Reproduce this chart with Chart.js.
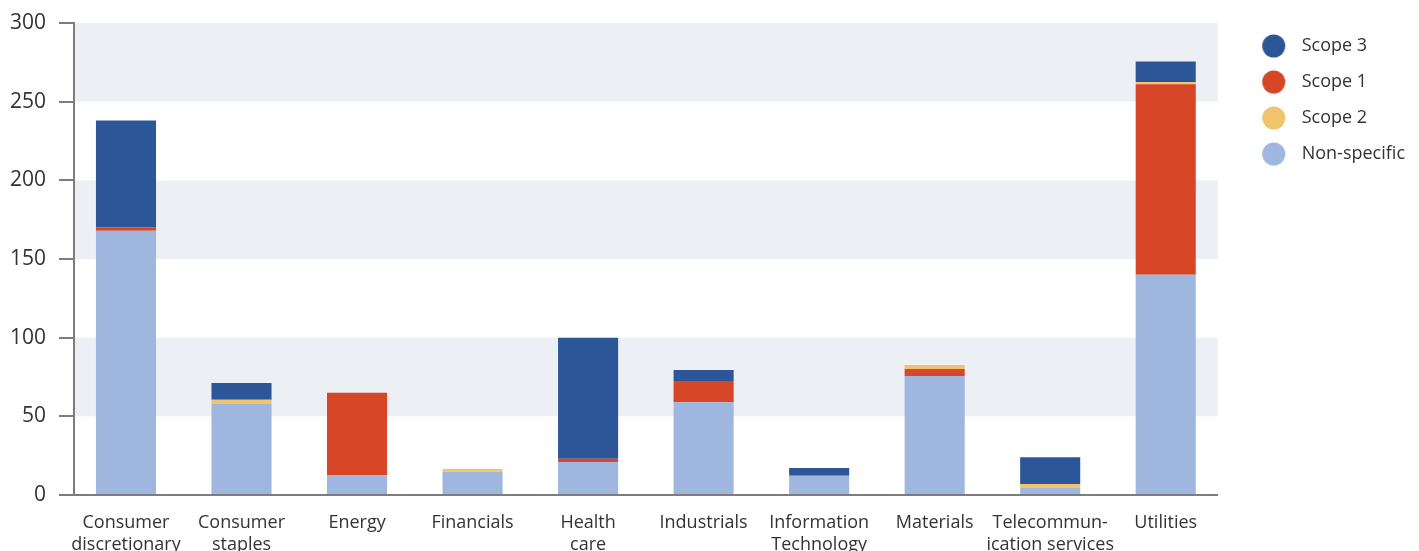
<!DOCTYPE html>
<html>
<head>
<meta charset="utf-8">
<script src="https://cdn.jsdelivr.net/npm/chart.js@4"></script>
<style>
  body { margin: 0; background: #fff; }
</style>
</head>
<body>
<canvas id="myChart" width="1419" height="551"></canvas>
<script>
// categories (split in lines the way the axis shows them)
let categories = [
  ["Consumer", "discretionary"],
  ["Consumer", "staples"],
  ["Energy"],
  ["Financials"],
  ["Health", "care"],
  ["Industrials"],
  ["Information", "Technology"],
  ["Materials"],
  ["Telecommun-", "ication services"],
  ["Utilities"],
];

// stacked from the bottom up
let nonSpecific = [168, 58, 12.5, 14.7, 21, 59, 12.2, 75.6, 4.5, 140];
let scope1 = [2, 0, 52.5, 0, 2, 13.5, 0, 4.5, 0, 121];
let scope2 = [0, 2.5, 0, 1.8, 0, 0, 0, 2.5, 2.5, 1.5];
let scope3 = [68, 10.7, 0, 0, 77, 7, 5, 0, 17, 13];

let yTicks = [0, 50, 100, 150, 200, 250, 300];
let bands = [[50, 100], [150, 200], [250, 300]];
let legendOrder = ["Scope 3", "Scope 1", "Scope 2", "Non-specific"];

let font = "'Open Sans', sans-serif";
let textColor = "#333333";
let axisColor = "#7d7d7d";

// round legend marker, drawn a bit right of the box centre
function makeDot(color) {
  let c = document.createElement("canvas");
  c.width = 44;
  c.height = 24;
  let g = c.getContext("2d");
  g.fillStyle = color;
  g.beginPath();
  g.arc(31.5, 12, 11.5, 0, Math.PI * 2);
  g.fill();
  return c;
}

let bandPlugin = {
  id: "bands",
  beforeDraw(chart) {
    let ctx = chart.ctx;
    let area = chart.chartArea;
    let y = chart.scales.y;
    ctx.save();
    ctx.fillStyle = "#eceff3";
    bands.forEach((b) => {
      let top = y.getPixelForValue(b[1]);
      let bottom = y.getPixelForValue(b[0]);
      ctx.fillRect(area.left, top, area.right - area.left, bottom - top);
    });
    ctx.restore();
  },
};

let datasets = [
  { label: "Non-specific", data: nonSpecific, backgroundColor: "#9fb6de" },
  { label: "Scope 1", data: scope1, backgroundColor: "#d64627" },
  { label: "Scope 2", data: scope2, backgroundColor: "#f0c36d" },
  { label: "Scope 3", data: scope3, backgroundColor: "#2d5699" },
];
let dots = datasets.map((d) => makeDot(d.backgroundColor));

const config = {
  type: "bar",
  data: {
    labels: categories.map((c, i) => i),
    datasets: datasets.map((d) => ({
      ...d,
      barPercentage: 0.52,
      categoryPercentage: 1,
      borderWidth: 0,
    })),
  },
  options: {
    responsive: false,
    animation: false,
    devicePixelRatio: 1,
    layout: { padding: { top: 19, right: 4, bottom: 0, left: 0 } },
    plugins: {
      tooltip: { enabled: false },
      legend: {
        position: "right",
        align: "start",
        labels: {
          usePointStyle: true,
          pointStyleWidth: 57,
          padding: 18,
          color: textColor,
          font: { family: font, size: 18 },
          sort: (a, b) => legendOrder.indexOf(a.text) - legendOrder.indexOf(b.text),
          generateLabels(chart) {
            let items = Chart.defaults.plugins.legend.labels.generateLabels(chart);
            items.forEach((it) => {
              it.pointStyle = dots[it.datasetIndex];
            });
            return items;
          },
        },
      },
    },
    scales: {
      x: {
        type: "linear",
        stacked: true,
        offset: false,
        min: -0.45,
        max: 9.45,
        afterFit: (s) => {
          s.height = 56;
        },
        grid: { display: false, drawTicks: false, offset: false },
        border: { display: true, color: axisColor, width: 2 },
        ticks: {
          stepSize: 1,
          includeBounds: false,
          autoSkip: false,
          maxRotation: 0,
          padding: 17,
          color: textColor,
          font: { family: font, size: 18 },
          callback: (v) => categories[v],
        },
      },
      y: {
        stacked: true,
        min: 0,
        max: 300,
        afterFit: (s) => {
          s.width = 74;
          s.paddingTop = 23;
        },
        afterBuildTicks: (s) => {
          s.ticks = yTicks.map((v) => ({ value: v }));
        },
        grid: {
          drawOnChartArea: false,
          drawTicks: true,
          tickLength: 15,
          color: axisColor,
          lineWidth: 2,
        },
        border: { display: true, color: axisColor, width: 2 },
        ticks: {
          padding: 13,
          color: textColor,
          font: { family: font, size: 21 },
        },
      },
    },
  },
  plugins: [bandPlugin],
};

new Chart(document.getElementById("myChart"), config);
</script>
</body>
</html>
